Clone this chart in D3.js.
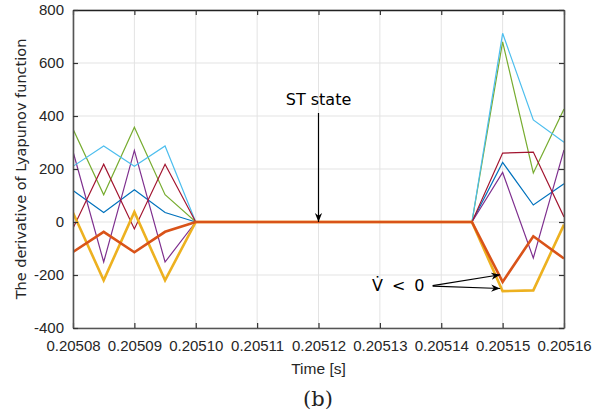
<!DOCTYPE html>
<html><head><meta charset="utf-8">
<script src="https://cdn.jsdelivr.net/npm/d3@7"></script>
<style>body{margin:0;background:#fff}svg{display:block}</style>
</head><body>
<script>
const time = [0.20508,0.205085,0.20509,0.205095,0.2051,0.205105,0.20511,0.205115,0.20512,0.205125,0.20513,0.205135,0.20514,0.205145,0.20515,0.205155,0.20516];
const sBlue      = [119, 36, 122, 36, 0,0,0,0,0,0,0,0,0,0, 225, 64, 144];
const sOrange    = [-113, -37, -114, -37, 0,0,0,0,0,0,0,0,0,0, -226, -54, -138];
const sYellow    = [35, -220, 38, -220, 0,0,0,0,0,0,0,0,0,0, -261, -258, -10];
const sPurple    = [266, -151, 270, -151, 0,0,0,0,0,0,0,0,0,0, 187, -136, 272];
const sGreen     = [351, 103, 358, 103, 0,0,0,0,0,0,0,0,0,0, 680, 185, 426];
const sLightBlue = [210, 287, 210, 287, 0,0,0,0,0,0,0,0,0,0, 712, 385, 301];
const sDarkRed   = [-24, 218, -26, 218, 0,0,0,0,0,0,0,0,0,0, 260, 264, 19];
const xTicks = [0.20508,0.20509,0.2051,0.20511,0.20512,0.20513,0.20514,0.20515,0.20516];
const xTickLabels = ["0.20508","0.20509","0.20510","0.20511","0.20512","0.20513","0.20514","0.20515","0.20516"];
const yTicks = [-400,-200,0,200,400,600,800];
const yTickLabels = ["-400","-200","0","200","400","600","800"];

const W=609,H=416;
const m={l:73,r:45,t:10,b:88};
const x=d3.scaleLinear().domain([0.20508,0.20516]).range([m.l,W-m.r]);
const y=d3.scaleLinear().domain([-400,800]).range([H-m.b,m.t]);
const svg=d3.select("body").append("svg").attr("width",W).attr("height",H);
const defs=svg.append("defs");
defs.append("clipPath").attr("id","clip").append("rect")
  .attr("x",m.l).attr("y",m.t).attr("width",W-m.r-m.l).attr("height",H-m.b-m.t);
defs.append("marker").attr("id","arr").attr("viewBox","0 0 10 10").attr("refX",10).attr("refY",5)
  .attr("markerWidth",9).attr("markerHeight",9).attr("markerUnits","userSpaceOnUse").attr("orient","auto")
  .append("path").attr("d","M0,1 L10,5 L0,9 L3,5 Z").attr("fill","#000");

// grid
const g=svg.append("g");
g.selectAll(".gx").data(xTicks).join("line").attr("x1",d=>x(d)).attr("x2",d=>x(d))
  .attr("y1",m.t).attr("y2",H-m.b).attr("stroke","#e3e3e3").attr("stroke-width",1);
g.selectAll(".gy").data(yTicks).join("line").attr("y1",d=>y(d)).attr("y2",d=>y(d))
  .attr("x1",m.l).attr("x2",W-m.r).attr("stroke","#e3e3e3").attr("stroke-width",1);

// series
const series=[
  {v:sBlue,c:"#0072BD",w:1.2},
  {v:sPurple,c:"#7E2F8E",w:1.2},
  {v:sGreen,c:"#77AC30",w:1.2},
  {v:sLightBlue,c:"#4DBEEE",w:1.2},
  {v:sDarkRed,c:"#A2142F",w:1.2},
  {v:sYellow,c:"#EDB120",w:2.6},
  {v:sOrange,c:"#D95319",w:2.6}
];
const line=d3.line().x((d,i)=>x(time[i])).y(d=>y(d));
const lg=svg.append("g").attr("clip-path","url(#clip)");
series.forEach(s=>lg.append("path").attr("d",line(s.v)).attr("fill","none")
  .attr("stroke",s.c).attr("stroke-width",s.w).attr("stroke-linejoin","miter"));

// axes
const tickFont="'Liberation Sans', Arial, sans-serif";
const axB=svg.append("g").attr("transform",`translate(0,${H-m.b})`)
  .call(d3.axisBottom(x).tickValues(xTicks).tickFormat((d,i)=>xTickLabels[i]).tickSizeInner(-5).tickSizeOuter(0).tickPadding(12));
const axT=svg.append("g").attr("transform",`translate(0,${m.t})`)
  .call(d3.axisTop(x).tickValues(xTicks).tickFormat("").tickSizeInner(-5).tickSizeOuter(0));
const axL=svg.append("g").attr("transform",`translate(${m.l},0)`)
  .call(d3.axisLeft(y).tickValues(yTicks).tickFormat((d,i)=>yTickLabels[i]).tickSizeInner(-5).tickSizeOuter(0).tickPadding(9));
const axR=svg.append("g").attr("transform",`translate(${W-m.r},0)`)
  .call(d3.axisRight(y).tickValues(yTicks).tickFormat("").tickSizeInner(-5).tickSizeOuter(0));
[axB,axT,axL,axR].forEach(a=>{
  a.select(".domain").attr("stroke","#555").attr("stroke-width",1.6);
  a.selectAll(".tick line").attr("stroke","#333").attr("stroke-width",1.2);
  a.selectAll("text").attr("font-family",tickFont).attr("font-size",15).attr("fill","#262626");
});
axT.select(".domain").attr("stroke","#222");

// labels
svg.append("text").attr("x",(m.l+W-m.r)/2).attr("y",374).attr("text-anchor","middle")
  .attr("font-family",tickFont).attr("font-size",15.5).attr("fill","#262626").text("Time [s]");
svg.append("text").attr("transform",`translate(26,${(m.t+H-m.b)/2}) rotate(-90)`).attr("text-anchor","middle")
  .attr("font-family","'DejaVu Sans', sans-serif").attr("font-size",14.5).attr("fill","#262626")
  .text("The derivative of Lyapunov function");
svg.append("text").attr("x",318).attr("y",406).attr("text-anchor","middle")
  .attr("font-family","'DejaVu Serif', 'Liberation Serif', serif").attr("font-size",21).attr("fill","#222").text("(b)");

// annotations
svg.append("text").attr("x",x(0.20512)).attr("y",105).attr("text-anchor","middle")
  .attr("font-family","'DejaVu Sans', sans-serif").attr("font-size",16).attr("fill","#000").text("ST state");
svg.append("line").attr("x1",x(0.20512)).attr("x2",x(0.20512)).attr("y1",113).attr("y2",y(0))
  .attr("stroke","#000").attr("stroke-width",1.2).attr("marker-end","url(#arr)");
const vt=svg.append("text").attr("x",372).attr("y",291)
  .attr("font-family","'DejaVu Sans', sans-serif").attr("font-size",16).attr("fill","#000");
vt.append("tspan").text("V\u0307");
vt.append("tspan").attr("dx",9).text("<");
vt.append("tspan").attr("dx",9).text("0");
const vArrows=[{t0:0.2051386,v0:-240,t1:0.2051496,v1:-199},{t0:0.2051386,v0:-242,t1:0.2051496,v1:-251}];
vArrows.forEach(a=>svg.append("line").attr("x1",x(a.t0)).attr("y1",y(a.v0)).attr("x2",x(a.t1)).attr("y2",y(a.v1))
  .attr("stroke","#000").attr("stroke-width",1.2).attr("marker-end","url(#arr)"));
</script>
</body></html>
